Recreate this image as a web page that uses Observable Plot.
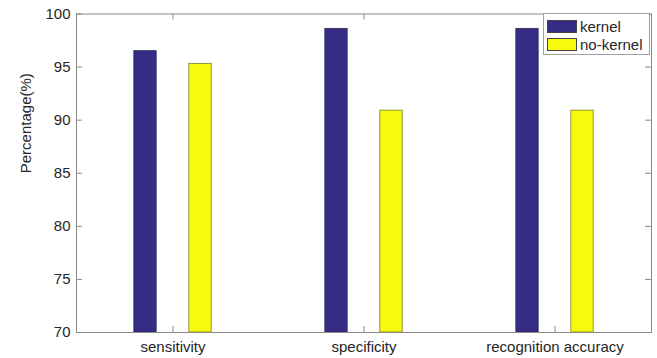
<!DOCTYPE html>
<html>
<head>
<meta charset="utf-8">
<script src="https://cdn.jsdelivr.net/npm/d3@7"></script>
<script src="https://cdn.jsdelivr.net/npm/@observablehq/plot@0.6"></script>
<style>
  html, body { margin: 0; padding: 0; background: #fff; }
  #wrap { position: relative; width: 657px; height: 358px; font-family: "Liberation Sans", Arial, sans-serif; }
  #legend { position: absolute; left: 543px; top: 13px; width: 107px; height: 42px; border: 1px solid #a0a0a0; background: #fff; box-sizing: border-box; font-size: 15px; color: #262626; }
  .item { position: absolute; left: 3px; display: flex; align-items: center; }
  .sw { width: 30px; height: 13px; box-sizing: border-box; border: 1px solid #444; margin-right: 3px; }
</style>
</head>
<body>
<div id="wrap"></div>
<script>
const categories = ["sensitivity", "specificity", "recognition accuracy"];
const series = ["kernel", "no-kernel"];
const kernelValues = [96.5, 98.6, 98.6];
const noKernelValues = [95.3, 90.9, 90.9];
const yTicks = [70, 75, 80, 85, 90, 95, 100];
const colors = {"kernel": "#352d85", "no-kernel": "#f8fa0d"};

const kernelData = categories.map((c, i) => ({category: c, series: "kernel", value: kernelValues[i]}));
const noKernelData = categories.map((c, i) => ({category: c, series: "no-kernel", value: noKernelValues[i]}));

const width = 657, height = 358;
const mL = 76, mR = 6, mT = 13.5, mB = 26;
const plotW = width - mL - mR, plotH = height - mT - mB;
const band = plotW / categories.length;
const barW = 23, offset = 27.5;
const inset = (band - barW) / 2;
const tickLen = 6;
const axisColor = "#8a8a8a";
const textColor = "#262626";

const chart = Plot.plot({
  width, height,
  marginLeft: mL, marginRight: mR, marginTop: mT, marginBottom: mB,
  style: {fontFamily: '"Liberation Sans", Arial, sans-serif', fontSize: "15px", color: textColor, background: "#fff"},
  x: {domain: categories, padding: 0, label: null},
  y: {domain: [70, 100], label: null},
  marks: [
    Plot.barY(kernelData, {x: "category", y1: 70, y2: "value", fill: d => colors[d.series], stroke: "#2a2a55", strokeWidth: 0.8, insetLeft: inset, insetRight: inset, dx: -offset}),
    Plot.barY(noKernelData, {x: "category", y1: 70, y2: "value", fill: d => colors[d.series], stroke: "#7a7a30", strokeWidth: 0.8, insetLeft: inset, insetRight: inset, dx: offset}),
    // inward ticks on all four sides (MATLAB box style)
    Plot.ruleY(yTicks, {y: d => d, insetRight: plotW - tickLen, stroke: axisColor}),
    Plot.ruleY(yTicks, {y: d => d, insetLeft: plotW - tickLen, stroke: axisColor}),
    Plot.ruleX(categories, {x: d => d, insetTop: plotH - tickLen, stroke: axisColor}),
    Plot.ruleX(categories, {x: d => d, insetBottom: plotH - tickLen, stroke: axisColor}),
    Plot.frame({stroke: axisColor}),
    Plot.axisY(yTicks, {tickSize: 0, tickPadding: 6, label: null, fill: textColor}),
    Plot.axisX({tickSize: 0, tickPadding: 9, label: null, fill: textColor}),
    Plot.text(["Percentage(%)"], {frameAnchor: "left", rotate: -90, dx: -50, fill: textColor, fontSize: 15})
  ]
});

const wrap = document.getElementById("wrap");
wrap.appendChild(chart);

const legend = document.createElement("div");
legend.id = "legend";
series.forEach((s, i) => {
  const item = document.createElement("div");
  item.className = "item";
  item.style.top = (i === 0 ? 4 : 22) + "px";
  const sw = document.createElement("div");
  sw.className = "sw";
  sw.style.background = colors[s];
  const lab = document.createElement("span");
  lab.textContent = s;
  item.appendChild(sw);
  item.appendChild(lab);
  legend.appendChild(item);
});
wrap.appendChild(legend);
</script>
</body>
</html>
